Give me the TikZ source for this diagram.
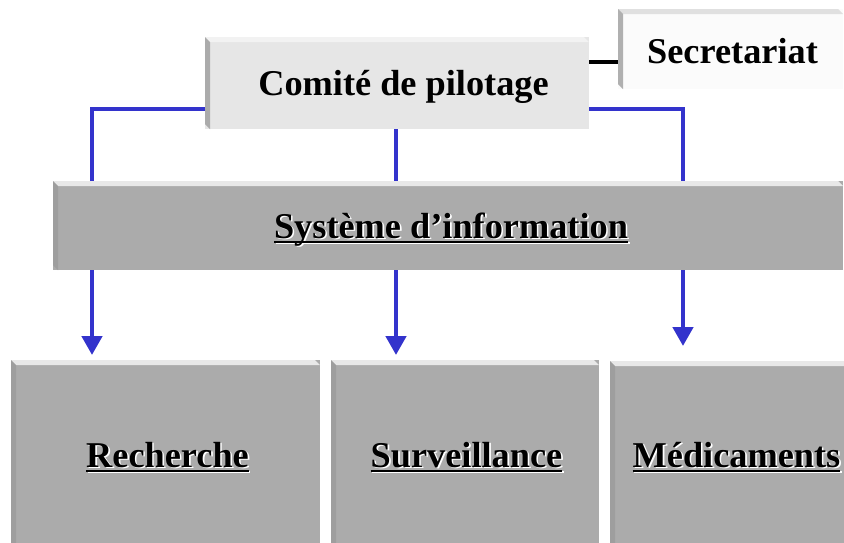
\documentclass[tikz,border=0pt]{standalone}
\usepackage{fontspec}
\setmainfont{Liberation Serif}
\usetikzlibrary{calc,arrows.meta}
\definecolor{myblue}{HTML}{3333CC}
\definecolor{facelight}{HTML}{E6E6E6}
\definecolor{toplight}{HTML}{F2F2F2}
\definecolor{leftlight}{HTML}{ABABAB}
\definecolor{facewhite}{HTML}{FBFBFB}
\definecolor{topwhite}{HTML}{E0E0E0}
\definecolor{leftwhite}{HTML}{B0B0B0}
\definecolor{facegray}{HTML}{ABABAB}
\definecolor{topgray}{HTML}{E8E8E8}
\definecolor{leftgray}{HTML}{9E9E9E}
\newlength\ulw
\newcommand\ultxt[1]{\settowidth\ulw{#1}\rlap{#1}\rule[-4.5pt]{\ulw}{1.8pt}}
% name, x0, y0, x1, y1, face, top, left
\newcommand\bevbox[8]{%
  \node[boxnode, fill=#6, minimum width={(#4-#2)*1pt}, minimum height={(#5-#3)*1pt}]
    (#1) at ({(#2+#4)/2},{(#3+#5)/2}) {};
  \fill[#7] (#1.north west) -- ($(#1.north east)+(-5,0)$) -- ($(#1.north east)+(0,5)$)
    -- ($(#1.north west)+(5,5)$) -- cycle;
  \fill[#8] (#1.north west) -- ($(#1.north west)+(5,5)$) -- ($(#1.south west)+(5,0)$)
    -- ($(#1.south west)+(0,-5)$) -- cycle;
}
\newcommand\shtext[4]{% name, x, y, text
  \node[lbl, white] at ({#2+1.6},{#3+1.6}) {#4};
  \node[lbl] (#1) at (#2,#3) {#4};
}
\tikzset{
  boxnode/.style={draw=none, inner sep=0pt, outer sep=0pt, shape=rectangle},
  lbl/.style={font=\fontsize{36.3}{40}\selectfont\bfseries, inner sep=0pt, outer sep=0pt, anchor=base, text=black},
  conn/.style={line width=4.5pt, draw=myblue},
  arr/.style={conn, -{Triangle[width=20pt,length=19pt]}},
  blk/.style={line width=4.5pt, draw=black},
}
\begin{document}
\begin{tikzpicture}[x=1pt, y=-1pt]
\useasboundingbox (0,0) rectangle (844,542);
\clip (0,0) rectangle (844,542);
\fill[white] (0,0) rectangle (844,542);

\coordinate (xl) at (92,0);
\coordinate (xm) at (396,0);
\coordinate (xr) at (683,0);

% boxes
\bevbox{comite}{205}{37}{589}{129}{facelight}{toplight}{leftlight}
\bevbox{sec}{618}{9}{843}{89}{facewhite}{topwhite}{leftwhite}
\bevbox{sys}{53}{181}{843}{270}{facegray}{topgray}{leftgray}
\bevbox{rech}{11}{360}{320}{560}{facegray}{topgray}{leftgray}
\bevbox{surv}{331}{360}{599}{560}{facegray}{topgray}{leftgray}
\bevbox{medi}{610}{361}{870}{560}{facegray}{topgray}{leftgray}

% connectors
\coordinate (bk) at ($(comite.east)+(0,-21)$);
\coordinate (bl) at ($(comite.west)+(0,26)$);
\coordinate (br) at ($(comite.east)+(0,26)$);
\draw[blk] (bk) -- (bk -| sec.west);
\draw[conn] (bl) -| (sys.north -| xl);
\draw[conn] (br) -| (sys.north -| xr);
\draw[conn] (comite.south -| xm) -- (sys.north -| xm);
\draw[arr, shorten >=5pt] (sys.south -| xl) -- (rech.north -| xl);
\draw[arr, shorten >=5pt] (sys.south -| xm) -- (surv.north -| xm);
\draw[arr, shorten >=15pt] (sys.south -| xr) -- (medi.north -| xr);

% texts
\node[lbl] (t-comite) at (403.5,95) {Comité de pilotage};
\node[lbl] (t-sec) at (732.5,63) {Secretariat};
\shtext{t-sys}{451}{238}{\ultxt{Système d’information}}
\shtext{t-rech}{167.5}{467}{\ultxt{Recherche}}
\shtext{t-surv}{466.5}{467}{\ultxt{Surveillance}}
\shtext{t-medi}{736.5}{467}{\ultxt{Médicaments}}
\end{tikzpicture}
\end{document}
